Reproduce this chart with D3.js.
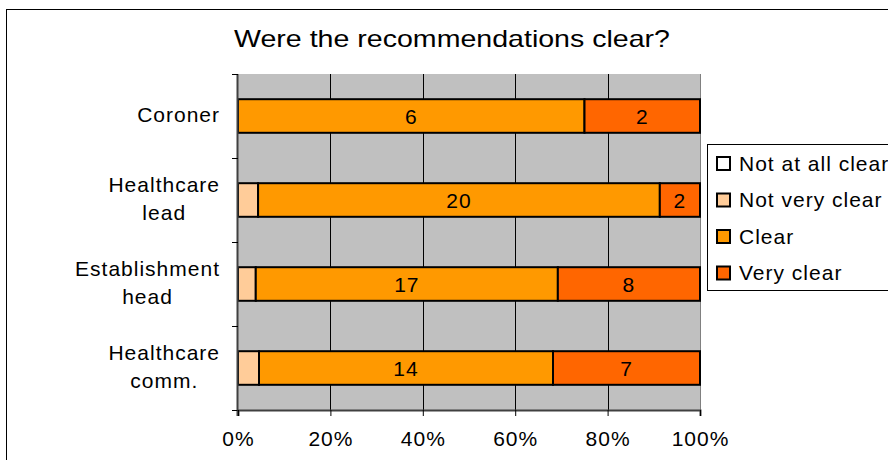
<!DOCTYPE html>
<html>
<head>
<meta charset="utf-8">
<script src="https://cdn.jsdelivr.net/npm/d3@7"></script>
<style>
  body { margin: 0; background: #fff; }
  text { font-family: "Liberation Sans", Arial, sans-serif; fill: #000; }
</style>
</head>
<body>
<div id="chart"></div>
<script>
// data
var categories = [['Coroner'], ['Healthcare', 'lead'], ['Establishment', 'head'], ['Healthcare', 'comm.']];
var seriesNames = ['Not at all clear', 'Not very clear', 'Clear', 'Very clear'];
var notAtAllClear = [0, 0, 0, 0];
var notVeryClear = [0, 1, 1, 1];
var clear = [6, 20, 17, 14];
var veryClear = [2, 2, 8, 7];
var xTicks = [0, 0.2, 0.4, 0.6, 0.8, 1];

var colors = ['#FFFFFF', '#FFCC99', '#FF9900', '#FF6600'];
var labelled = [false, false, true, true];

var width = 888, height = 460;
var plot = { left: 238, right: 700, top: 74, bottom: 410 };
var fontSize = '21px', spacing = '1px';

var svg = d3.select('#chart').append('svg')
	.attr('width', width)
	.attr('height', height);

// outer chart border
svg.append('rect')
	.attr('x', 6.5).attr('y', 9.5)
	.attr('width', 1000).attr('height', 1000)
	.attr('fill', 'none')
	.attr('stroke', '#000')
	.attr('stroke-width', 1);

// title
svg.append('text')
	.attr('x', 234).attr('y', 47)
	.attr('textLength', 436)
	.attr('lengthAdjust', 'spacingAndGlyphs')
	.style('font-size', '24px')
	.text('Were the recommendations clear?');

var rows = categories.map(function (c, i) {
	var vals = [notAtAllClear[i], notVeryClear[i], clear[i], veryClear[i]];
	var total = d3.sum(vals);
	var acc = 0;
	return {
		index: i,
		segs: vals.map(function (v, j) {
			var s = { series: j, value: v, x0: acc / total, x1: (acc + v) / total };
			acc += v;
			return s;
		})
	};
});

var xScale = d3.scaleLinear().domain([0, 1]).range([plot.left, plot.right]);
var yScale = d3.scaleBand()
	.domain(d3.range(categories.length))
	.range([plot.top, plot.bottom])
	.paddingInner(0.6).paddingOuter(0.3);
var yOuter = d3.scaleBand()
	.domain(d3.range(categories.length))
	.range([plot.top, plot.bottom]);

// plot background
svg.append('rect')
	.attr('x', plot.left).attr('y', plot.top)
	.attr('width', plot.right - plot.left)
	.attr('height', plot.bottom - plot.top)
	.attr('fill', '#C0C0C0');

// gridlines
svg.append('g')
	.selectAll('line')
	.data(xTicks.slice(1, -1))
	.enter().append('line')
	.attr('x1', d => Math.round(xScale(d)) + 0.5)
	.attr('x2', d => Math.round(xScale(d)) + 0.5)
	.attr('y1', plot.top).attr('y2', plot.bottom)
	.attr('stroke', '#000')
	.attr('stroke-width', 1);

// right edge
svg.append('line')
	.attr('x1', plot.right + 0.5).attr('x2', plot.right + 0.5)
	.attr('y1', plot.top).attr('y2', plot.bottom)
	.attr('stroke', '#808080');

// bars
var bars = svg.append('g');
rows.forEach(function (r) {
	var g = bars.append('g');
	g.selectAll('rect')
		.data(r.segs.filter(s => s.value > 0))
		.enter().append('rect')
		.attr('x', s => xScale(s.x0))
		.attr('y', yScale(r.index))
		.attr('width', s => xScale(s.x1) - xScale(s.x0))
		.attr('height', yScale.bandwidth())
		.attr('fill', s => colors[s.series])
		.attr('stroke', '#000')
		.attr('stroke-width', 2);
	g.selectAll('text')
		.data(r.segs.filter(s => s.value > 0 && labelled[s.series]))
		.enter().append('text')
		.attr('x', s => (xScale(s.x0) + xScale(s.x1)) / 2)
		.attr('y', yScale(r.index) + yScale.bandwidth() / 2 + 7.5)
		.attr('text-anchor', 'middle')
		.style('font-size', fontSize)
		.style('letter-spacing', spacing)
		.text(s => s.value);
});

// y axis
var yAxis = svg.append('g');
yAxis.append('line')
	.attr('x1', plot.left - 0.5).attr('x2', plot.left - 0.5)
	.attr('y1', plot.top).attr('y2', plot.bottom + 6)
	.attr('stroke', '#404040').attr('stroke-width', 2);
yAxis.selectAll('.tick')
	.data(d3.range(categories.length + 1))
	.enter().append('line')
	.attr('x1', plot.left - 6).attr('x2', plot.left)
	.attr('y1', d => Math.round(plot.top + d * yOuter.step()) + 0.5)
	.attr('y2', d => Math.round(plot.top + d * yOuter.step()) + 0.5)
	.attr('stroke', '#000');

var catLabels = yAxis.selectAll('.cat')
	.data(categories)
	.enter().append('text')
	.attr('class', 'cat')
	.style('font-size', fontSize)
	.style('letter-spacing', spacing)
	.attr('text-anchor', 'middle');
catLabels.each(function (lines, i) {
	var cy = yScale(i) + yScale.bandwidth() / 2;
	var t = d3.select(this);
	var lineH = 28;
	var startY = cy - (lines.length - 1) * lineH / 2 + 6;
	lines.forEach(function (l, k) {
		t.append('tspan')
			.attr('x', 0)
			.attr('y', startY + k * lineH)
			.text(l);
	});
});
// right-align the multi-line blocks at x = 220
catLabels.each(function () {
	var bb = this.getBBox();
	d3.select(this).selectAll('tspan').attr('x', 220 - bb.width / 2);
});

// x axis
var xAxis = d3.axisBottom(xScale)
	.tickValues(xTicks)
	.tickFormat(d3.format('.0%'))
	.tickSize(6)
	.tickPadding(15);
var xg = svg.append('g')
	.attr('transform', 'translate(0,' + plot.bottom + ')')
	.call(xAxis);
xg.select('.domain').attr('stroke', '#404040').attr('stroke-width', 2);
xg.selectAll('.tick line').attr('stroke', '#000');
xg.selectAll('.tick text')
	.style('font-size', fontSize)
	.style('letter-spacing', spacing)
	.style('font-family', '"Liberation Sans", Arial, sans-serif')
	.attr('fill', '#000');

// legend
var legend = svg.append('g');
legend.append('rect')
	.attr('x', 707.5).attr('y', 144.5)
	.attr('width', 200).attr('height', 146)
	.attr('fill', '#fff')
	.attr('stroke', '#000');
var items = legend.selectAll('.item')
	.data(seriesNames)
	.enter().append('g')
	.attr('transform', (d, i) => 'translate(717,' + (163 + i * 36.5) + ')');
items.append('rect')
	.attr('x', 0).attr('y', -6)
	.attr('width', 13).attr('height', 13)
	.attr('fill', (d, i) => colors[i])
	.attr('stroke', '#000')
	.attr('stroke-width', 2);
items.append('text')
	.attr('x', 22).attr('y', 7.5)
	.style('font-size', fontSize)
	.style('letter-spacing', spacing)
	.text(d => d);
</script>
</body>
</html>
